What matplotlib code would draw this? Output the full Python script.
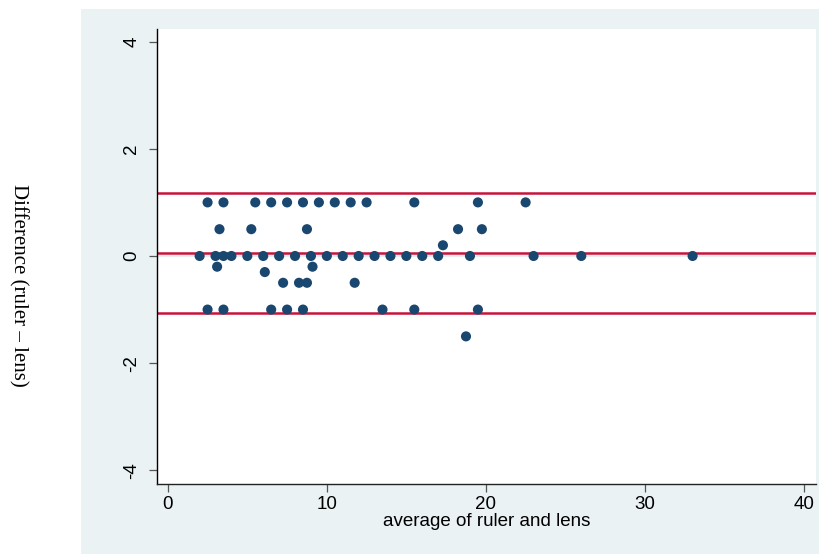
import matplotlib
matplotlib.use("Agg")
import matplotlib.pyplot as plt
from matplotlib.patches import Rectangle

plt.rcParams["axes.unicode_minus"] = False

# Data (average, difference)
avg = [2.5, 3.5, 5.5, 6.5, 7.5, 8.5, 9.5, 10.5, 11.5, 12.5, 15.5, 19.5, 22.5,
       3.25, 5.25, 8.75, 18.25, 19.75,
       17.3,
       2, 3, 3.5, 4, 5, 6, 7, 8, 9, 10, 11, 12, 13, 14, 15, 16, 17, 19, 23, 26, 33,
       3.1, 9.1,
       6.1,
       7.25, 8.25, 8.75, 11.75,
       2.5, 3.5, 6.5, 7.5, 8.5, 13.5, 15.5, 19.5,
       18.75]
diff = [1.0] * 13 + [0.5] * 5 + [0.2] + [0.0] * 21 + [-0.2] * 2 + [-0.3] + \
       [-0.5] * 4 + [-1.0] * 8 + [-1.5]

limit_lines = [-1.06, 0.06, 1.17]
xticks = [0, 10, 20, 30, 40]
yticks = [-4, -2, 0, 2, 4]
xlabel = "average of ruler and lens"
ylabel = "Difference (ruler \u2013 lens)"

W, H = 819, 554
fig = plt.figure(figsize=(W / 100, H / 100), dpi=100)
fig.patch.set_facecolor("white")
bg = Rectangle((81 / W, 0), 1 - 81 / W, (H - 9) / H,
               transform=fig.transFigure, facecolor="#eaf2f3",
               edgecolor="none", zorder=-10)
fig.patches.append(bg)

ax = fig.add_axes([157 / W, (H - 483.5) / H, (816 - 157) / W, (483.5 - 29) / H])
ax.set_zorder(1)
ax.set_facecolor("white")

ax.axhline(0, color="#e3ecee", lw=1.6, zorder=1)
for v in limit_lines:
    ax.axhline(v, color="#c8143c", lw=1.8, zorder=2)

ax.scatter(avg, diff, s=53, color="#1a476f", edgecolors="none", zorder=3)

ax.set_xlim(-0.68, 40.76)
ax.set_ylim(-4.245, 4.235)
ax.set_xticks(xticks)
ax.set_yticks(yticks)

for s in ["top", "right"]:
    ax.spines[s].set_visible(False)
ax.spines["left"].set_color("black")
ax.spines["bottom"].set_color("#222222")
ax.spines["left"].set_linewidth(1.0)
ax.spines["bottom"].set_linewidth(1.0)

ax.tick_params(axis="both", length=6, width=0.9, color="#555555",
               labelsize=13.5, labelcolor="black")
ax.tick_params(axis="x", pad=3)
ax.tick_params(axis="y", pad=6)
for lab in ax.get_xticklabels() + ax.get_yticklabels():
    lab.set_family("Liberation Sans")
for lab in ax.get_yticklabels():
    lab.set_rotation(90)
    lab.set_va("center")

ax.set_xlabel(xlabel, family="Liberation Sans", fontsize=13.5, labelpad=0)
fig.text(18 / W, 1 - 285 / H, ylabel, rotation=270, family="Liberation Serif",
         fontsize=15, ha="center", va="center")

fig.savefig("out.png", dpi=100)
